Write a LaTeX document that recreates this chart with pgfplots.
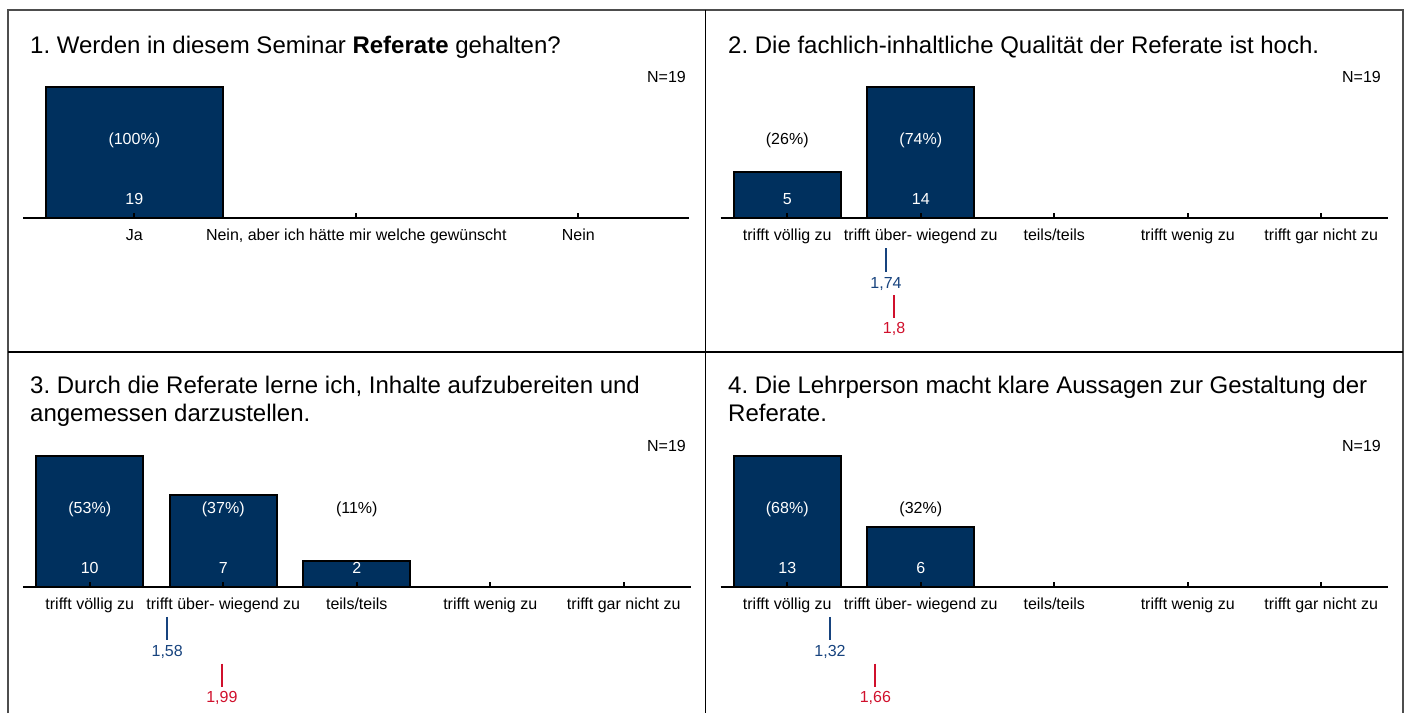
\documentclass[border=0pt]{standalone}
\usepackage{fontspec}
\setmainfont{Liberation Sans}
\usepackage{pgfplots}
\pgfplotsset{compat=1.18}
\frenchspacing
\definecolor{barnavy}{HTML}{00305E}
\definecolor{meanblue}{HTML}{17437E}
\definecolor{meanred}{HTML}{D0102C}
\definecolor{framegray}{HTML}{4D4D4D}
\newcommand{\lbl}{\fontsize{16}{19}\selectfont}
\newcommand{\ttl}{\fontsize{24}{28}\selectfont}
\pgfplotsset{
  panel/.style={
    scale only axis, height=131pt, ymin=0, enlargelimits=false, clip=false,
    axis x line*=bottom, axis y line=none, axis on top,
    x axis line style={line width=2pt, black},
    tick align=inside, major tick length=5pt,
    xtick style={line width=2pt, black},
    ytick=\empty,
    xticklabel style={font=\lbl, anchor=base, yshift=-22.7pt, inner sep=0pt},
  },
  bars/.style={ybar, bar width=0.8, fill=barnavy, draw=black, line width=2pt},
  lab/.style={draw=none, mark=none, nodes near coords={\pgfplotspointmeta},
    point meta=explicit symbolic,
    nodes near coords style={font=\lbl, anchor=base, inner sep=0pt}},
  cnt/.style={lab, nodes near coords style={text=white, yshift=14pt}},
  pctw/.style={lab, nodes near coords style={text=white, yshift=74pt}},
  pctb/.style={lab, nodes near coords style={text=black, yshift=74pt}},
  meanbline/.style={only marks, mark=|, mark size=11.75pt, color=meanblue,
    mark options={line width=2pt, yshift=-41.5pt}},
  meanrline/.style={only marks, mark=|, mark size=11.5pt, color=meanred,
    mark options={line width=2pt, yshift=-88.2pt}},
  meanblab/.style={lab, nodes near coords style={text=meanblue, yshift=-69.7pt}},
  meanrlab/.style={lab, nodes near coords style={text=meanred, yshift=-115pt}},
  five/.style={width=667.5pt, xmin=0.5, xmax=5.5, xtick={1,2,3,4,5},
    xticklabels={trifft völlig zu, trifft über- wiegend zu, teils/teils, trifft wenig zu, trifft gar nicht zu}},
}
\begin{document}
\begin{tikzpicture}
% frame
\draw[framegray, line width=2pt] (8pt,0pt) -- (8pt,703pt) -- (1403pt,703pt) -- (1403pt,0pt);
\draw[black, line width=1.6pt] (705.5pt,703pt) -- (705.5pt,0pt);
\draw[black, line width=1.6pt] (8pt,361.3pt) -- (1403pt,361.3pt);
% titles
\node[anchor=base west, inner sep=0pt, font=\ttl] at (30pt,659.5pt) {1. Werden in diesem Seminar \textbf{Referate} gehalten?};
\node[anchor=base west, inner sep=0pt, font=\ttl] at (728pt,659.5pt) {2. Die fachlich-inhaltliche Qualität der Referate ist hoch.};
\node[anchor=base west, inner sep=0pt, font=\ttl] at (30pt,319.5pt) {3. Durch die Referate lerne ich, Inhalte aufzubereiten und};
\node[anchor=base west, inner sep=0pt, font=\ttl] at (30pt,291.5pt) {angemessen darzustellen.};
\node[anchor=base west, inner sep=0pt, font=\ttl] at (728pt,319.5pt) {4. Die Lehrperson macht klare Aussagen zur Gestaltung der};
\node[anchor=base west, inner sep=0pt, font=\ttl] at (728pt,291.5pt) {Referate.};
% N
\node[anchor=base east, inner sep=0pt, font=\lbl] at (686pt,630.7pt) {N=19};
\node[anchor=base east, inner sep=0pt, font=\lbl] at (1381pt,630.7pt) {N=19};
\node[anchor=base east, inner sep=0pt, font=\lbl] at (686pt,261.3pt) {N=19};
\node[anchor=base east, inner sep=0pt, font=\lbl] at (1381pt,261.3pt) {N=19};

% Panel 1
\begin{axis}[panel, at={(23.3pt,494.7pt)}, anchor=south west, width=666pt,
  xmin=0.5, xmax=3.5, ymax=19, xtick={1,2,3},
  xticklabels={Ja,{Nein, aber ich hätte mir welche gewünscht},Nein}]
\addplot[bars] coordinates {(1,19) (2,0) (3,0)};
\addplot[cnt] coordinates {(1,0) [19]};
\addplot[pctw] coordinates {(1,0) [(100\%)]};
\end{axis}

% Panel 2
\begin{axis}[panel, five, at={(720.5pt,494.7pt)}, anchor=south west, ymax=14]
\addplot[bars] coordinates {(1,5) (2,14) (3,0) (4,0) (5,0)};
\addplot[cnt] coordinates {(1,0) [5] (2,0) [14]};
\addplot[pctb] coordinates {(1,0) [(26\%)]};
\addplot[pctw] coordinates {(2,0) [(74\%)]};
\addplot[meanbline] coordinates {(1.74,0)};
\addplot[meanblab] coordinates {(1.74,0) [{1,74}]};
\addplot[meanrline] coordinates {(1.8,0)};
\addplot[meanrlab] coordinates {(1.8,0) [{1,8}]};
\end{axis}

% Panel 3
\begin{axis}[panel, five, at={(23pt,126pt)}, anchor=south west, ymax=10]
\addplot[bars] coordinates {(1,10) (2,7) (3,2) (4,0) (5,0)};
\addplot[cnt] coordinates {(1,0) [10] (2,0) [7] (3,0) [2]};
\addplot[pctw] coordinates {(1,0) [(53\%)] (2,0) [(37\%)]};
\addplot[pctb] coordinates {(3,0) [(11\%)]};
\addplot[meanbline] coordinates {(1.58,0)};
\addplot[meanblab] coordinates {(1.58,0) [{1,58}]};
\addplot[meanrline] coordinates {(1.99,0)};
\addplot[meanrlab] coordinates {(1.99,0) [{1,99}]};
\end{axis}

% Panel 4
\begin{axis}[panel, five, at={(720.5pt,126pt)}, anchor=south west, ymax=13]
\addplot[bars] coordinates {(1,13) (2,6) (3,0) (4,0) (5,0)};
\addplot[cnt] coordinates {(1,0) [13] (2,0) [6]};
\addplot[pctw] coordinates {(1,0) [(68\%)]};
\addplot[pctb] coordinates {(2,0) [(32\%)]};
\addplot[meanbline] coordinates {(1.32,0)};
\addplot[meanblab] coordinates {(1.32,0) [{1,32}]};
\addplot[meanrline] coordinates {(1.66,0)};
\addplot[meanrlab] coordinates {(1.66,0) [{1,66}]};
\end{axis}
\pgfresetboundingbox
\path[use as bounding box] (0pt,0pt) rectangle (1407pt,713pt);
\end{tikzpicture}
\end{document}
